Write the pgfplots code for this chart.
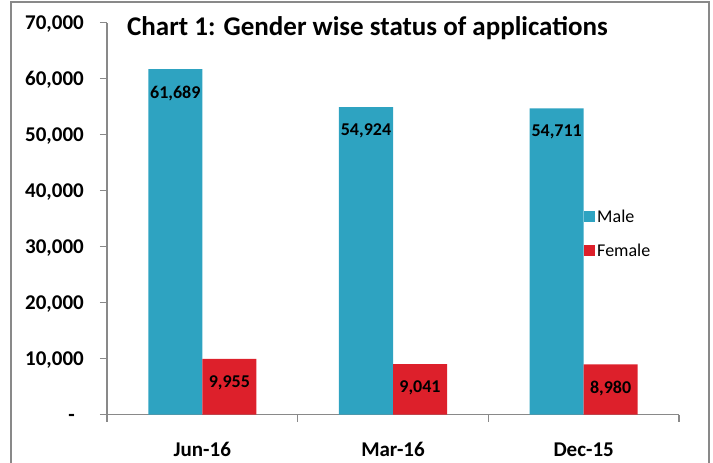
\documentclass[border=0pt]{standalone}
\usepackage{pgfplots}
\pgfplotsset{compat=1.18}
\usepackage{fontspec}
\setmainfont{Carlito}
\definecolor{male}{HTML}{2EA3C1}
\definecolor{female}{HTML}{DD202B}
\definecolor{axgray}{HTML}{898989}
\begin{document}
\begin{tikzpicture}
\path[use as bounding box] (-107bp,-48.3bp) rectangle (606bp,414.7bp);
\draw[axgray, line width=1.6bp] (-96bp,-60bp) -- (-96bp,412.7bp) -- (602bp,412.7bp) -- (602bp,-60bp);
\begin{axis}[
  scale only axis,
  width=572bp, height=392bp,
  xmin=-0.5, xmax=2.5, ymin=0, ymax=70000,
  enlargelimits=false,
  clip=false,
  scaled y ticks=false,
  axis lines*=left,
  axis line style={axgray, line width=1.5bp},
  tick style={axgray, line width=1.5bp},
  tick align=outside,
  major tick length=7bp,
  xtick={-0.5,0.5,1.5,2.5},
  xticklabels={Jun-16,Mar-16,Dec-15},
  x tick label as interval,
  ytick={0,10000,20000,30000,40000,50000,60000,70000},
  yticklabels={{-\hspace*{9bp}},{10,000},{20,000},{30,000},{40,000},{50,000},{60,000},{70,000}},
  x tick label style={font=\fontsize{21bp}{24bp}\selectfont\bfseries, anchor=base, yshift=-34.6bp},
  y tick label style={font=\fontsize{21bp}{24bp}\selectfont\bfseries, anchor=base east, inner sep=0pt, yshift=-7bp, xshift=-16bp},
  ybar=0pt, bar width=54bp,
  /pgf/number format/assume math mode=true,
  /pgf/number format/.cd, fixed, precision=0, 1000 sep={,}, /pgfplots/.cd,
  nodes near coords,
  nodes near coords style={font=\fontsize{18bp}{20bp}\selectfont\bfseries, anchor=center, yshift=-24bp, text=black},
  legend image code/.code={\fill[#1] (0bp,-5.5bp) rectangle (11bp,5.5bp);},
  legend style={at={(0.834,0.462)}, anchor=west, draw=none, fill=none, inner sep=0pt,
    font=\fontsize{18bp}{20bp}\selectfont, row sep=16bp, column sep=0bp,
    nodes={inner sep=2bp}},
  legend cell align=left,
]
\addplot[draw=none, fill=male] coordinates {(0,61689) (1,54924) (2,54711)};
\addplot[draw=none, fill=female] coordinates {(0,9955) (1,9041) (2,8980)};
\legend{Male,Female}
\end{axis}
\node[anchor=base west, font=\fontsize{27bp}{32bp}\selectfont\bfseries, inner sep=0pt] at (20bp,379bp) {Chart 1: Gender wise status of applications};
\end{tikzpicture}
\end{document}
